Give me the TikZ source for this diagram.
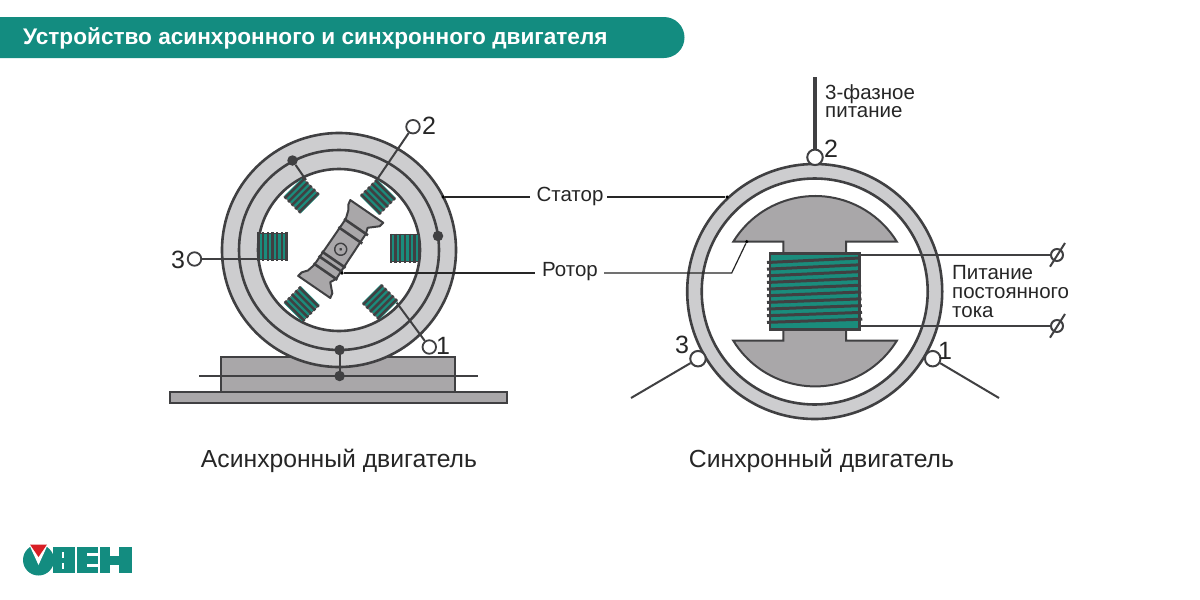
\documentclass[tikz,border=0pt]{standalone}
\usepackage{fontspec}
\setmainfont{Liberation Sans}
\definecolor{teal1}{HTML}{138C80}
\definecolor{coilteal}{HTML}{1A8C7C}
\definecolor{dk}{HTML}{404042}
\definecolor{ringg}{HTML}{CDCDCF}
\definecolor{baseg}{HTML}{A9A7A9}
\definecolor{logored}{HTML}{D81F26}
\tikzset{
  wire/.style={draw=dk,line width=2pt},
  thinln/.style={draw=black!85,line width=1.2pt},
  body/.style={draw=dk,line width=2pt,fill=baseg},
  ringc/.style={draw=dk,line width=2.6pt,fill=ringg},
  term/.style={circle,draw=dk,line width=1.8pt,fill=white,minimum size=13.5pt,inner sep=0pt},
  termb/.style={circle,draw=dk,line width=2pt,fill=white,minimum size=15.5pt,inner sep=0pt},
  phiterm/.style={circle,draw=dk,line width=2pt,minimum size=12pt,inner sep=0pt},
  dot/.style={circle,fill=dk,minimum size=10.5pt,inner sep=0pt},
  tipdot/.style={circle,fill=black,minimum size=3.5pt,inner sep=0pt},
  lab/.style={font=\fontsize{20.5}{20.5}\selectfont,text=black!85,inner sep=0pt},
  captext/.style={font=\fontsize{24.7}{24.7}\selectfont,text=black!85,inner sep=0pt},
  numl/.style={font=\fontsize{25}{25}\selectfont,text=black!85,inner sep=0pt},
  para/.style={font=\fontsize{20.5}{18.6}\selectfont,text=black!85,inner sep=0pt,align=left,anchor=west}
}
\newcommand{\coilA}{%
  \fill[coilteal] (-14,-13) rectangle (14,13);
  \foreach \u in {-14,-9.4,-4.7,0,4.7,9.4,14}
    \draw[dk,line width=2.3pt] (\u,-14.5) -- (\u,14.5);
  \draw[dk,line width=0.8pt] (-14,-13.2) -- (14,-13.2) (-14,13.2) -- (14,13.2);
}
\newcommand{\coilB}{%
  \fill[coilteal] (-12,-12.5) rectangle (12,12.5);
  \foreach \u in {-10,-5,0,5,10}
    \draw[dk,line width=2.5pt] (\u,-14) -- (\u,14);
  \draw[dk,line width=0.8pt] (-12,-13) -- (12,-13) (-12,13) -- (12,13);
}
\begin{document}
\begin{tikzpicture}[x=1pt,y=-1pt]
\useasboundingbox (0,0) rectangle (1200,600);
\fill[white] (0,0) rectangle (1200,600);
% banner
\fill[teal1] (0,17) -- (664,17) arc[start angle=90,end angle=-90,radius=20.5pt] -- (0,58) -- cycle;
\node[anchor=west,inner sep=0pt,text=white,font=\bfseries\fontsize{22.6}{22.6}\selectfont] (title) at (23,38) {Устройство асинхронного и синхронного двигателя};
% ---- left motor
\draw[body] (170,392) rectangle (507,403);
\draw[body] (221,357) rectangle (455,392);
\coordinate (lc) at (339,250);
\draw[ringc] (lc) circle (117pt);
\draw[dk,line width=2.6pt] (lc) circle (100pt);
\draw[dk,line width=2.6pt,fill=white] (lc) circle (81pt);
\begin{scope}[shift={(272.5,246.5)}] \coilA \end{scope}
\begin{scope}[shift={(405,248)}] \coilA \end{scope}
\begin{scope}[shift={(301.6,195.6)},rotate=-45] \coilB \end{scope}
\begin{scope}[shift={(378,197)},rotate=45] \coilB \end{scope}
\begin{scope}[shift={(301.7,304)},rotate=45] \coilB \end{scope}
\begin{scope}[shift={(380,302)},rotate=-45] \coilB \end{scope}
% rotor
\begin{scope}[shift={(340.7,249.3)},rotate=55.5]
\draw[body,line join=round] (46,-20) -- (46,20) -- (41,19) -- (33,10) -- (27,12) -- (-27,13) -- (-33,10) -- (-41,18) -- (-46,19) -- (-46,-20) -- (-41,-19) -- (-36,-15) -- (-28,-13) -- (28,-13) -- (37,-16) -- (41,-19) -- cycle;
\foreach \u in {27,17,-12.5,-18,-27}
  \draw[dk,line width=2.6pt] (\u,-14.5) -- (\u,14.5);
\draw[dk,line width=1.4pt] (0,0) circle (6pt);
\fill[dk] (0,0) circle (1.6pt);
\end{scope}
% left wires
\node[dot] (d1) at (292.5,160.5) {};
\node[dot] (d2) at (438,236) {};
\node[dot] (d3) at (339.6,350) {};
\node[dot] (d4) at (339.6,376) {};
\coordinate (cA) at (306,180);
\draw[wire] (d1) -- (cA);
\draw[wire] (d3) -- (d4);
\coordinate (bl) at (199,376); \coordinate (br) at (478,376);
\draw[wire] (bl) -- (br);
\node[term] (t2) at (413,126.7) {};
\node[term] (t3) at (194.5,259) {};
\node[term] (t1) at (429.3,347) {};
\coordinate (c2) at (376.7,180);
\coordinate (c3) at (259,259);
\coordinate (c1) at (396.7,302.7);
\draw[wire] (t2) -- (c2);
\draw[wire] (t3) -- (c3);
\draw[wire] (t1) -- (c1);
\node[numl] (n2) at (429,125.5) {2};
\node[numl] (n3) at (178,259.5) {3};
\node[numl] (n1) at (443,345.5) {1};
% ---- right motor
\coordinate (rc) at (814.7,291.5);
\draw[ringc] (rc) circle (127.5pt);
\draw[dk,line width=2.6pt,fill=white] (rc) circle (113pt);
\draw[body,line join=miter] (733.3,241.7) arc[start angle=148.4,end angle=31.6,radius=96pt] -- (846,241.7) -- (846,254) -- (783.3,254) -- (783.3,241.7) -- cycle;
\draw[body,line join=miter] (733.3,340.7) arc[start angle=211.6,end angle=328.4,radius=96pt] -- (846,340.7) -- (846,329) -- (783.3,329) -- (783.3,340.7) -- cycle;
\draw[draw=dk,line width=2.4pt,fill=coilteal] (770,253.3) rectangle (859.3,329.3);
\foreach \i in {0,...,9}
  \draw[dk,line width=3pt] (767,{262.5+6.65*\i}) -- ({860+0.25*\i},{258+6.8*\i});
\node[termb] (rt2) at (815,157.3) {};
\node[termb] (rt3) at (698,358.7) {};
\node[termb] (rt1) at (932.7,358.7) {};
\coordinate (pwr) at (815,77);
\coordinate (lw3) at (631,398);
\coordinate (lw1) at (999,398);
\draw[dk,line width=3.2pt] (rt2) -- (pwr);
\draw[wire] (rt3) -- (lw3);
\draw[wire] (rt1) -- (lw1);
\node[numl] (rn2) at (831,148.5) {2};
\node[numl] (rn3) at (682,345) {3};
\node[numl] (rn1) at (945,350.5) {1};
\node[para] (ph3) at (825,101) {3-фазное\\питание};
\node[para] (dc) at (952,291.5) {Питание\\постоянного\\тока};
% phi terminals
\node[phiterm] (ph1) at (1057,255) {};
\node[phiterm] (ph2) at (1057,326) {};
\coordinate (ph1a) at (1050,266.7); \coordinate (ph1b) at (1065,243);
\coordinate (ph2a) at (1050,337.7); \coordinate (ph2b) at (1065,314);
\draw[wire] (ph1a) -- (ph1b);
\draw[wire] (ph2a) -- (ph2b);
\coordinate (cs1) at (859.3,255); \coordinate (cs2) at (859.3,326);
\draw[wire] (cs1) -- (ph1);
\draw[wire] (cs2) -- (ph2);
% callouts
\node[lab] (stator) at (570,196) {Статор};
\node[lab] (rotor) at (570,272) {Ротор};
\node[tipdot] (s1) at (443,197) {};
\node[tipdot] (s2) at (727,197) {};
\node[tipdot] (r1) at (342,273) {};
\node[tipdot] (r2) at (746.7,241.7) {};
\coordinate (rb) at (731.7,273);
\coordinate (sa) at (530,197); \coordinate (sb) at (607,197);
\coordinate (ra) at (535,273); \coordinate (rd) at (604,273);
\draw[thinln] (s1) -- (sa);
\draw[thinln] (sb) -- (s2);
\draw[thinln] (r1) -- (ra);
\draw[thinln] (rd) -- (rb) -- (r2);
% captions
\node[captext] (capl) at (339,460.5) {Асинхронный двигатель};
\node[captext] (capr) at (821.5,460.5) {Синхронный двигатель};
% logo
\fill[teal1] (38.5,560) circle (15.5pt);
\fill[white] (28,542) -- (49,542) -- (38.5,565) -- cycle;
\fill[logored] (30,544.5) -- (47,544.5) -- (38.5,557) -- cycle;
\fill[teal1] (53,547) rectangle (75,573);
\fill[teal1] (77,547) rectangle (98,573);
\fill[teal1] (100,547) rectangle (132,573);
\fill[white] (62,552) rectangle (64,558);
\fill[white] (62,563) rectangle (64,569);
\fill[white] (87,553) rectangle (98,556);
\fill[white] (87,564) rectangle (98,567);
\fill[white] (110,547) rectangle (119,556);
\fill[white] (110,565) rectangle (119,573);
\end{tikzpicture}
\end{document}
